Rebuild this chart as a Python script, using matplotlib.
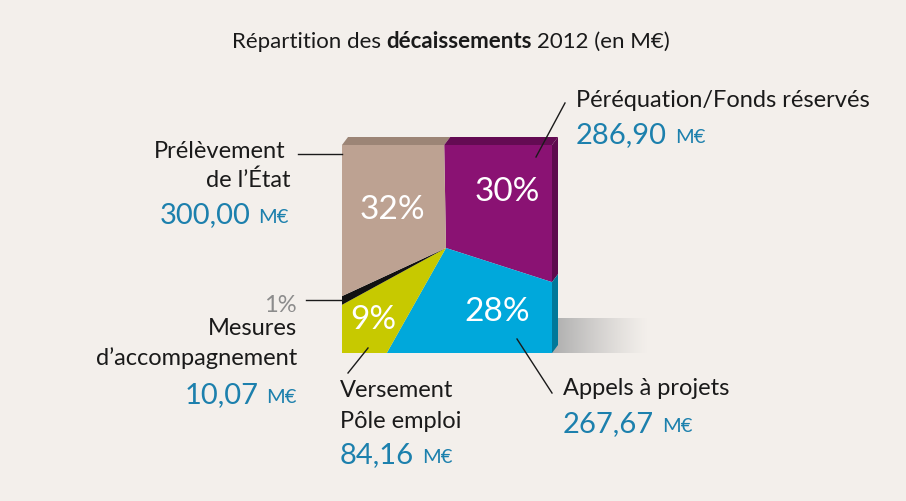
import matplotlib
matplotlib.use('Agg')
import matplotlib.pyplot as plt
import numpy as np
from matplotlib.patches import Rectangle, Polygon

plt.rcParams['font.family'] = ['Lato', 'DejaVu Sans']

# données (M€), dans l'ordre du camembert à partir du haut, sens horaire
names = ['Péréquation/Fonds réservés', 'Appels à projets', 'Versement Pôle emploi',
         "Mesures d'accompagnement", "Prélèvement de l'État"]
values = [286.90, 267.67, 84.16, 10.07, 300.00]
colors = ['#8a1273', '#00a8db', '#c7c900', '#111111', '#bda292']

bg = '#f3efeb'
blue_txt = '#1c80ad'
H = 501

fig = plt.figure(figsize=(9.06, 5.01), dpi=100, facecolor=bg)
ax = fig.add_axes([0, 0, 1, 1])
ax.set_facecolor(bg)

# carré du "camembert"
L, R, B, T = 342, 552, H - 353, H - 145
cx, cy = 446, 253
dx, dy = 6, 8
start = 91

total = sum(values)
wedges, _ = ax.pie(values, colors=colors, startangle=start, counterclock=False,
                   center=(cx, cy), radius=400, wedgeprops=dict(linewidth=0))
clip = Rectangle((L, B), R - L, T - B, transform=ax.transData)
for w in wedges:
    w.set_clip_on(True)
    w.set_clip_path(clip)

# faces 3D : dessus et côté droit
a0 = np.radians(start)
xs = cx + (T - cy) / np.tan(a0)
a1 = np.radians(start - 360 * values[0] / total)
ys = cy + (R - cx) * np.tan(a1)
ax.add_patch(Polygon([(L, T), (xs, T), (xs + dx, T + dy), (L + dx, T + dy)], color='#9c8576', lw=0, zorder=2))
ax.add_patch(Polygon([(xs, T), (R, T), (R + dx, T + dy), (xs + dx, T + dy)], color='#640b53', lw=0, zorder=2))
ax.add_patch(Polygon([(R, T), (R, ys), (R + dx, ys + dy), (R + dx, T + dy)], color='#5e0a4e', lw=0, zorder=2))
ax.add_patch(Polygon([(R, ys), (R, B), (R + dx, B + dy), (R + dx, ys + dy)], color='#00789a', lw=0, zorder=2))

# ombre
grad = np.zeros((1, 200, 4))
grad[..., :3] = 0.68
grad[..., 3] = np.linspace(1, 0, 200) ** 1.2
ax.imshow(grad, extent=[R, 648, B, H - 318], aspect='auto', zorder=0.5)

# pourcentages
pct_pos = [(507, 309), (497, 189), (373, 181), None, (392, 291)]
for v, p in zip(values, pct_pos):
    if p is None:
        continue
    ax.text(p[0], p[1], f'{round(v / total * 100)}%', color='white', fontsize=24,
            ha='center', va='center', zorder=3)

r = fig.canvas.get_renderer()


def rich(x, y, parts, ha='left', gap=5):
    texts = [ax.text(0, 0, s, va='baseline', **kw) for s, kw in parts]
    widths = [t.get_window_extent(r).width for t in texts]
    tot = sum(widths) + gap * (len(texts) - 1)
    x0 = x - tot if ha == 'right' else (x - tot / 2 if ha == 'center' else x)
    for t, w in zip(texts, widths):
        t.set_position((x0, y))
        x0 += w + gap


def amount(x, y, v, ha='left'):
    s = f'{v:.2f}'.replace('.', ',')
    rich(x, y, [(s, dict(fontsize=21, color=blue_txt)),
                ('M€', dict(fontsize=14.5, color=blue_txt))], ha, gap=8)


# titre
rich(451, H - 48, [('Répartition des', dict(fontsize=16, color='#1a1a1a')),
                   ('décaissements', dict(fontsize=16, fontweight='bold', color='#1a1a1a')),
                   ('2012 (en M€)', dict(fontsize=16, color='#1a1a1a'))], 'center')

lab = dict(fontsize=17, color='#1a1a1a', va='baseline')
# Prélèvement
ax.text(285, H - 158, 'Prélèvement', ha='right', **lab)
ax.text(290, H - 187, 'de l’État', ha='right', **lab)
amount(289, H - 223, values[4], 'right')
ax.plot([298, 342], [H - 154, H - 154], color='#1a1a1a', lw=1)

# Péréquation
ax.text(576, H - 107, 'Péréquation/Fonds réservés', ha='left', **lab)
amount(576, H - 143, values[0])
ax.plot([536, 565], [H - 157, H - 103], color='#1a1a1a', lw=1, zorder=3)

# Mesures
ax.text(297, H - 312, f'{round(values[3] / total * 100)}%', ha='right', fontsize=17,
        color='#8c8c8c', va='baseline')
ax.plot([306, 343], [H - 300, H - 300], color='#1a1a1a', lw=1)
ax.text(297, H - 335, 'Mesures', ha='right', **lab)
ax.text(297, H - 365, 'd’accompagnement', ha='right', **lab)
amount(297, H - 403, values[3], 'right')

# Versement
ax.text(340, H - 397, 'Versement', ha='left', **lab)
ax.text(340, H - 428, 'Pôle emploi', ha='left', **lab)
amount(340, H - 463, values[2])
ax.plot([368, 348], [H - 348, H - 373], color='#1a1a1a', lw=1, zorder=3)

# Appels
ax.text(563, H - 395, 'Appels à projets', ha='left', **lab)
amount(563, H - 432, values[1])
ax.plot([517, 552], [H - 339, H - 393], color='#1a1a1a', lw=1, zorder=3)

ax.set_xlim(0, 906)
ax.set_ylim(0, H)
ax.set_aspect('auto')
ax.axis('off')

fig.savefig('out.png', dpi=100, facecolor=bg)
